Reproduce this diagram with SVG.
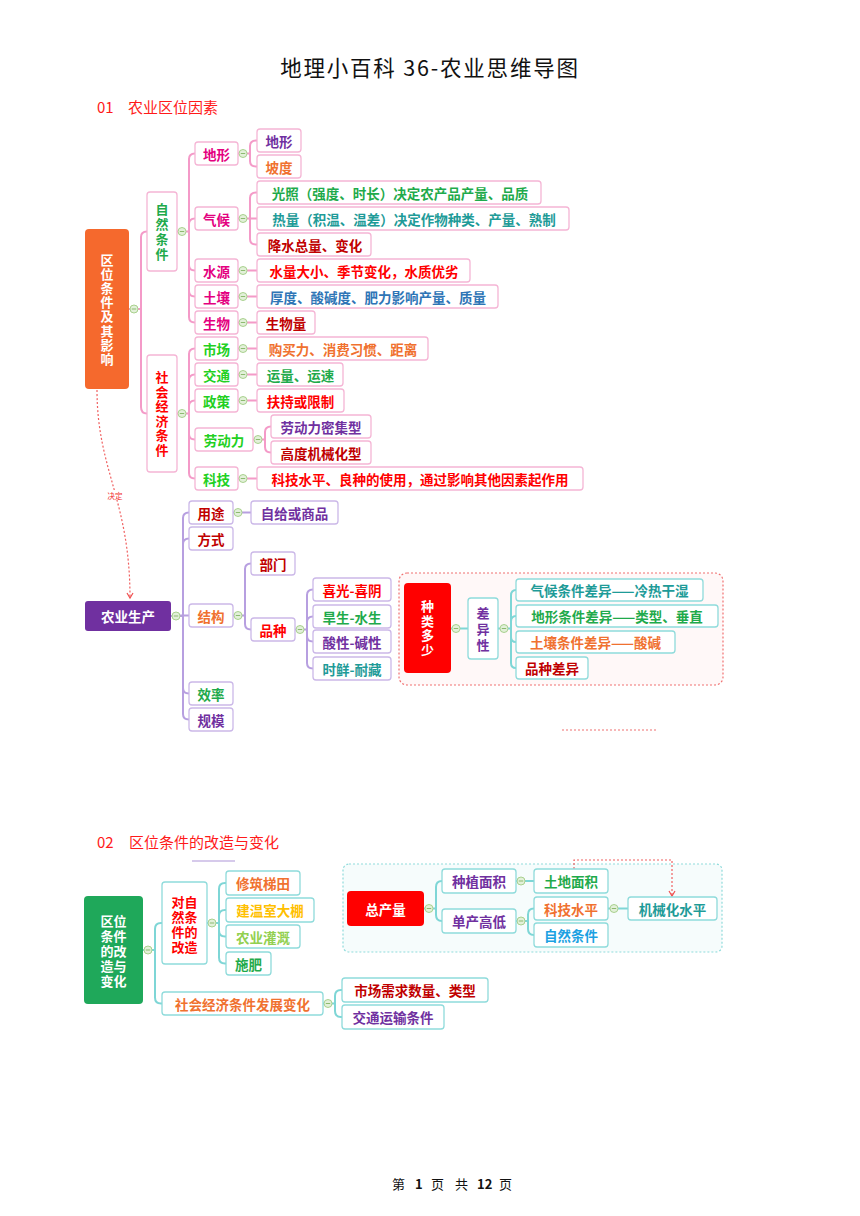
<svg xmlns="http://www.w3.org/2000/svg" xmlns:xlink="http://www.w3.org/1999/xlink" width="860" height="1216" viewBox="0 0 860 1216">
<style>
text{font-family:"Noto Sans CJK SC","Noto Sans",sans-serif;}
.t{font-weight:bold;font-size:13.5px;text-anchor:middle;dominant-baseline:central;}
.v{font-weight:bold;font-size:13px;text-anchor:middle;dominant-baseline:central;}
.vv{font-weight:bold;font-size:13px;text-anchor:middle;writing-mode:vertical-rl;}
.bp{fill:#fff;stroke:#F5B5D5;stroke-width:1.3;}
.bv{fill:#fff;stroke:#CBB8E8;stroke-width:1.3;}
.bt{fill:#fff;stroke:#8FDBDB;stroke-width:1.3;}
.lp{fill:none;stroke:#F49AC8;stroke-width:2;}
.lv{fill:none;stroke:#B79FE0;stroke-width:2;}
.lt{fill:none;stroke:#7ED6D6;stroke-width:2;}
.mag{fill:#E4007F}.pur{fill:#7030A0}.org{fill:#F0712F}.grn{fill:#1FAA4B}.teal{fill:#1E9B98}
.dred{fill:#C00000}.red{fill:#FF0000}.blue{fill:#2E75B6}.bgrn{fill:#22D022}.yel{fill:#FFC000}
.lgrn{fill:#92D050}.sky{fill:#1BA1E2}.wht{fill:#fff}
.dash{fill:none;stroke:#F06060;stroke-width:1.2;stroke-dasharray:2 2;}
</style>
<defs>
<g id="col"><circle r="4" fill="#E2F0D9" stroke="#A9D18E" stroke-width="1"/><line x1="-2.2" y1="0" x2="2.2" y2="0" stroke="#8DBA70" stroke-width="1"/></g>
<marker id="arr" markerWidth="8" markerHeight="8" refX="6" refY="4" orient="auto" markerUnits="userSpaceOnUse"><path d="M1,1 L6,4 L1,7" fill="none" stroke="#F05050" stroke-width="1.2"/></marker>
</defs>
<rect width="860" height="1216" fill="#fff"/>

<g id="headers">
<text x="430" y="76" font-size="21.5" text-anchor="middle" fill="#111" letter-spacing="1.8">地理小百科 36-农业思维导图</text>
<text x="97" y="113" font-size="15" fill="#FF1A1A">01<tspan x="128">农业区位因素</tspan></text>
<text x="97" y="848" font-size="15" fill="#FF1A1A">02<tspan x="129">区位条件的改造与变化</tspan></text>
<text y="1189" font-size="13" fill="#111"><tspan x="392">第</tspan><tspan x="415" font-weight="bold">1</tspan><tspan x="431">页</tspan><tspan x="455">共</tspan><tspan x="477" font-weight="bold">12</tspan><tspan x="499">页</tspan></text>
</g>

<g id="n-variety-box"><rect x="399" y="573" width="324" height="112" rx="8" fill="#FFF8F8" stroke="#F07070" stroke-width="1.2" stroke-dasharray="2 2"/></g>
<g id="n-output-box"><rect x="343" y="864" width="379" height="88" rx="6" fill="#F6FCFC" stroke="#8FDBDB" stroke-width="1.2" stroke-dasharray="2 2"/></g>

<g id="connectors">
<path class="lp" d="M129,309 H130 M138,309 H141 V237 Q141,231.5 147,231.5 M141,309 V407 Q141,413.5 147,413.5"/>
<path class="lp" d="M177,231.5 H178 M186,231.5 H189 V159 Q189,153.5 195,153.5 M189,231.5 V224 Q189,218.5 195,218.5 M189,231.5 V265 Q189,270.5 195,270.5 M189,231.5 V291 Q189,296.5 195,296.5 M189,231.5 V317 Q189,322.5 195,322.5"/>
<path class="lp" d="M177,413.5 H178 M186,413.5 H189 V354 Q189,348.5 195,348.5 M189,413.5 V380 Q189,374.5 195,374.5 M189,413.5 V406 Q189,400.5 195,400.5 M189,413.5 V434 Q189,439.5 195,439.5 M189,413.5 V473 Q189,478.5 195,478.5"/>
<path class="lp" d="M238,153.5 H239 M247,153.5 H250 V146 Q250,140.5 256,140.5 H257 M250,153.5 V161 Q250,166.5 256,166.5 H257"/>
<path class="lp" d="M238,218.5 H239 M247,218.5 H257 M250,218.5 V198 Q250,192.5 256,192.5 H257 M250,218.5 V239 Q250,244.5 256,244.5 H257"/>
<path class="lp" d="M238,270.5 H239 M247,270.5 H257 M238,296.5 H239 M247,296.5 H257 M238,322.5 H239 M247,322.5 H257"/>
<path class="lp" d="M238,348.5 H239 M247,348.5 H257 M238,374.5 H239 M247,374.5 H257 M238,400.5 H239 M247,400.5 H257 M238,478.5 H239 M247,478.5 H257"/>
<path class="lp" d="M253,439.5 H254 M262,439.5 H265 V432 Q265,426.5 271,426.5 M265,439.5 V447 Q265,452.5 271,452.5"/>
<path class="lv" d="M171,616 H172 M180,616 H183 V518 Q183,512.5 189,512.5 M183,616 V544 Q183,538.5 189,538.5 M180,615.5 H189 M183,616 V688 Q183,693.5 189,693.5 M183,616 V714 Q183,719.5 189,719.5"/>
<path class="lv" d="M233,512.5 H234 M242,512.5 H251"/>
<path class="lv" d="M233,615.5 H234 M242,615.5 H245 V569 Q245,563.5 251,563.5 M245,615.5 V624 Q245,629.5 251,629.5"/>
<path class="lv" d="M295,629.5 H296 M304,629.5 H307 V595 Q307,589.5 313,589.5 M307,629.5 V622 Q307,616.5 313,616.5 M307,629.5 V636 Q307,641.5 313,641.5 M307,629.5 V663 Q307,668.5 313,668.5"/>
<path class="lt" d="M451,628.5 H452 M460,628.5 H468 M498,628.5 H500 M508,628.5 H511 V595.5 Q511,590 516,590 M511,628.5 V621.5 Q511,616 516,616 M511,628.5 V637 Q511,642 516,642 M511,628.5 V663 Q511,668 516,668"/>
<path class="dash" d="M97,390 C97,470 130,500 130,598" marker-end="url(#arr)"/>
<path class="lt" d="M143,950 H144 M152,950 H155 V929 Q155,923 161,923 H162 M155,950 V997.5 Q155,1003.5 161,1003.5 H162"/>
<path class="lt" d="M207,923 H208 M216,923 H219 V889 Q219,883 225,883 H226 M219,923 V916 Q219,910 225,910 H226 M219,923 V930.5 Q219,936.5 225,936.5 H226 M219,923 V957.5 Q219,963.5 225,963.5 H226"/>
<path class="lt" d="M323,1003.5 H324 M332,1003.5 H335 V996 Q335,990 341,990 H342 M335,1003.5 V1011 Q335,1017 341,1017 H342"/>
<path class="lt" d="M424,908.5 H425 M433,908.5 H436 V887 Q436,881 442,881 M436,908.5 V915 Q436,921 442,921"/>
<path class="lt" d="M516,881 H517 M525,881 H534 M516,921 H517 M525,921 H528 V914.5 Q528,908.5 534,908.5 M528,921 V929 Q528,935 534,935"/>
<path class="lt" d="M608,908.5 H610 M618,908.5 H628"/>
<path class="dash" d="M574,869 V860 H672 V896" marker-end="url(#arr)"/>
<path d="M562,730 H658" fill="none" stroke="#F07070" stroke-width="1.2" stroke-dasharray="2 2"/>
<path d="M192,861 H235" fill="none" stroke="#C8B8E4" stroke-width="1.5"/>
<use xlink:href="#col" x="134" y="309"/>
<use xlink:href="#col" x="182" y="231.5"/>
<use xlink:href="#col" x="182" y="413.5"/>
<use xlink:href="#col" x="243" y="153.5"/>
<use xlink:href="#col" x="243" y="218.5"/>
<use xlink:href="#col" x="243" y="270.5"/>
<use xlink:href="#col" x="243" y="296.5"/>
<use xlink:href="#col" x="243" y="322.5"/>
<use xlink:href="#col" x="243" y="348.5"/>
<use xlink:href="#col" x="243" y="374.5"/>
<use xlink:href="#col" x="243" y="400.5"/>
<use xlink:href="#col" x="258" y="439.5"/>
<use xlink:href="#col" x="243" y="478.5"/>
<use xlink:href="#col" x="176" y="616"/>
<use xlink:href="#col" x="238" y="512.5"/>
<use xlink:href="#col" x="238" y="615.5"/>
<use xlink:href="#col" x="300" y="629.5"/>
<use xlink:href="#col" x="456" y="628.5"/>
<use xlink:href="#col" x="504" y="628.5"/>
<use xlink:href="#col" x="148" y="950"/>
<use xlink:href="#col" x="212" y="923"/>
<use xlink:href="#col" x="328" y="1003.5"/>
<use xlink:href="#col" x="429" y="908.5"/>
<use xlink:href="#col" x="521" y="881"/>
<use xlink:href="#col" x="521" y="921"/>
<use xlink:href="#col" x="614" y="908.5"/>
</g>

<g id="label-jueding">
<rect x="106" y="490" width="18" height="10" fill="#fff"/>
<text x="115" y="495" font-size="7.5" text-anchor="middle" dominant-baseline="central" fill="#F03030">决定</text>
</g>

<g id="n-main"><rect x="85" y="229" width="44" height="160" rx="4" fill="#F5692D"/>
<text class="vv wht" x="107" y="310" font-size="13.5" letter-spacing="1.2">区位条件及其影响</text></g>
<g id="n-ziran"><rect class="bp" x="147" y="192" width="30" height="79" rx="3"/>
<text class="vv grn" x="162" y="232.5" letter-spacing="2">自然条件</text></g>
<g id="n-shehui"><rect class="bp" x="147" y="355" width="30" height="117" rx="3"/>
<text class="vv red" x="162" y="414.3" letter-spacing="1.6">社会经济条件</text></g>

<g id="n-dixing"><rect class="bp" x="195" y="142" width="43" height="23" rx="3"/><text class="t mag" x="216.5" y="153.5">地形</text></g>
<g id="n-qihou"><rect class="bp" x="195" y="207" width="43" height="23" rx="3"/><text class="t mag" x="216.5" y="218.5">气候</text></g>
<g id="n-shuiyuan"><rect class="bp" x="195" y="259" width="43" height="23" rx="3"/><text class="t mag" x="216.5" y="270.5">水源</text></g>
<g id="n-turang"><rect class="bp" x="195" y="285" width="43" height="23" rx="3"/><text class="t mag" x="216.5" y="296.5">土壤</text></g>
<g id="n-shengwu"><rect class="bp" x="195" y="311" width="43" height="23" rx="3"/><text class="t mag" x="216.5" y="322.5">生物</text></g>
<g id="n-shichang"><rect class="bp" x="195" y="337" width="43" height="23" rx="3"/><text class="t bgrn" x="216.5" y="348.5">市场</text></g>
<g id="n-jiaotong"><rect class="bp" x="195" y="363" width="43" height="23" rx="3"/><text class="t bgrn" x="216.5" y="374.5">交通</text></g>
<g id="n-zhengce"><rect class="bp" x="195" y="389" width="43" height="23" rx="3"/><text class="t bgrn" x="216.5" y="400.5">政策</text></g>
<g id="n-laodongli"><rect class="bp" x="195" y="428" width="58" height="23" rx="3"/><text class="t bgrn" x="224" y="439.5">劳动力</text></g>
<g id="n-keji"><rect class="bp" x="195" y="467" width="43" height="23" rx="3"/><text class="t bgrn" x="216.5" y="478.5">科技</text></g>

<g id="n-dixing2"><rect class="bp" x="257" y="129" width="44" height="23" rx="3"/><text class="t pur" x="279" y="140.5">地形</text></g>
<g id="n-podu"><rect class="bp" x="257" y="155" width="44" height="23" rx="3"/><text class="t org" x="279" y="166.5">坡度</text></g>
<g id="n-guangzhao"><rect class="bp" x="257" y="181" width="284" height="23" rx="3"/><text class="t grn" x="400" y="192.5">光照（强度、时长）决定农产品产量、品质</text></g>
<g id="n-reliang"><rect class="bp" x="257" y="207" width="312" height="23" rx="3"/><text class="t teal" x="414" y="218.5">热量（积温、温差）决定作物种类、产量、熟制</text></g>
<g id="n-jiangshui"><rect class="bp" x="257" y="233" width="114" height="23" rx="3"/><text class="t dred" x="315" y="244.5">降水总量、变化</text></g>
<g id="n-shuiliang"><rect class="bp" x="257" y="259" width="213" height="23" rx="3"/><text class="t red" x="364" y="270.5">水量大小、季节变化，水质优劣</text></g>
<g id="n-houdu"><rect class="bp" x="257" y="285" width="241" height="23" rx="3"/><text class="t blue" x="378" y="296.5">厚度、酸碱度、肥力影响产量、质量</text></g>
<g id="n-shengwuliang"><rect class="bp" x="257" y="311" width="58" height="23" rx="3"/><text class="t dred" x="286" y="322.5">生物量</text></g>
<g id="n-goumaili"><rect class="bp" x="257" y="337" width="171" height="23" rx="3"/><text class="t org" x="343" y="348.5">购买力、消费习惯、距离</text></g>
<g id="n-yunliang"><rect class="bp" x="257" y="363" width="86" height="23" rx="3"/><text class="t grn" x="300.5" y="374.5">运量、运速</text></g>
<g id="n-fuchi"><rect class="bp" x="257" y="389" width="87" height="23" rx="3"/><text class="t red" x="300.5" y="400.5">扶持或限制</text></g>
<g id="n-miji"><rect class="bp" x="271" y="415" width="100" height="23" rx="3"/><text class="t pur" x="321" y="426.5">劳动力密集型</text></g>
<g id="n-jixie"><rect class="bp" x="271" y="441" width="100" height="23" rx="3"/><text class="t dred" x="321" y="452.5">高度机械化型</text></g>
<g id="n-kejishuiping"><rect class="bp" x="257" y="467" width="326" height="23" rx="3"/><text class="t red" x="420" y="478.5">科技水平、良种的使用，通过影响其他因素起作用</text></g>

<g id="n-nongye"><rect x="85" y="601" width="86" height="30" rx="3" fill="#7030A0"/><text class="t wht" font-size="14" x="128" y="616">农业生产</text></g>
<g id="n-yongtu"><rect class="bv" x="189" y="501" width="44" height="23" rx="3"/><text class="t dred" x="211" y="512.5">用途</text></g>
<g id="n-fangshi"><rect class="bv" x="189" y="527" width="44" height="23" rx="3"/><text class="t dred" x="211" y="538.5">方式</text></g>
<g id="n-jiegou"><rect class="bv" x="189" y="604" width="44" height="23" rx="3"/><text class="t org" x="211" y="615.5">结构</text></g>
<g id="n-xiaolv"><rect class="bv" x="189" y="682" width="44" height="23" rx="3"/><text class="t grn" x="211" y="693.5">效率</text></g>
<g id="n-guimo"><rect class="bv" x="189" y="708" width="44" height="23" rx="3"/><text class="t pur" x="211" y="719.5">规模</text></g>
<g id="n-zigei"><rect class="bv" x="251" y="501" width="87" height="23" rx="3"/><text class="t pur" x="294.5" y="512.5">自给或商品</text></g>
<g id="n-bumen"><rect class="bv" x="251" y="552" width="44" height="23" rx="3"/><text class="t dred" x="273" y="563.5">部门</text></g>
<g id="n-pinzhong"><rect class="bv" x="251" y="618" width="44" height="23" rx="3"/><text class="t red" x="273" y="629.5">品种</text></g>
<g id="n-xiguang"><rect class="bv" x="313" y="578" width="78" height="23" rx="3"/><text class="t red" x="352" y="589.5">喜光-喜阴</text></g>
<g id="n-hansheng"><rect class="bv" x="313" y="605" width="78" height="23" rx="3"/><text class="t grn" x="352" y="616.5">旱生-水生</text></g>
<g id="n-suanxing"><rect class="bv" x="313" y="630" width="78" height="23" rx="3"/><text class="t pur" x="352" y="641.5">酸性-碱性</text></g>
<g id="n-shixian"><rect class="bv" x="313" y="657" width="78" height="23" rx="3"/><text class="t teal" x="352" y="668.5">时鲜-耐藏</text></g>

<g id="n-zhonglei"><rect x="404" y="583" width="47" height="90" rx="4" fill="#FF0000"/>
<text class="vv wht" x="427.5" y="628.7" font-size="14" letter-spacing="1.5">种类多少</text></g>
<g id="n-chayixing"><rect class="bt" x="468" y="598" width="30" height="61" rx="3"/>
<text class="vv pur" x="483" y="630.5" letter-spacing="3">差异性</text></g>
<g id="n-qihoucy"><rect class="bt" x="516" y="579" width="187" height="22" rx="3"/><text class="t teal" x="609.5" y="590">气候条件差异——冷热干湿</text></g>
<g id="n-dixingcy"><rect class="bt" x="516" y="605" width="202" height="22" rx="3"/><text class="t grn" x="617" y="616">地形条件差异——类型、垂直</text></g>
<g id="n-turangcy"><rect class="bt" x="516" y="631" width="159" height="22" rx="3"/><text class="t org" x="595.5" y="642">土壤条件差异——酸碱</text></g>
<g id="n-pinzhongcy"><rect class="bt" x="516" y="657" width="72" height="22" rx="3"/><text class="t dred" x="552" y="668">品种差异</text></g>

<g id="n-gaizao"><rect x="84" y="896" width="59" height="108" rx="4" fill="#1FA85A"/>
<text class="v wht" font-size="13.5"><tspan x="113.5" y="920">区位</tspan><tspan x="113.5" y="935">条件</tspan><tspan x="113.5" y="950">的改</tspan><tspan x="113.5" y="965">造与</tspan><tspan x="113.5" y="980">变化</tspan></text></g>
<g id="n-duiziran"><rect class="bt" x="162" y="882" width="45" height="82" rx="3"/>
<text class="v red" font-size="13.5"><tspan x="184.5" y="901">对自</tspan><tspan x="184.5" y="916">然条</tspan><tspan x="184.5" y="931">件的</tspan><tspan x="184.5" y="946">改造</tspan></text></g>
<g id="n-titian"><rect class="bt" x="226" y="871" width="74" height="24" rx="3"/><text class="t org" x="263" y="883">修筑梯田</text></g>
<g id="n-wenshi"><rect class="bt" x="226" y="898" width="88" height="24" rx="3"/><text class="t yel" x="270" y="910">建温室大棚</text></g>
<g id="n-guangai"><rect class="bt" x="226" y="925" width="74" height="23" rx="3"/><text class="t lgrn" x="263" y="936.5">农业灌溉</text></g>
<g id="n-shifei"><rect class="bt" x="226" y="952" width="45" height="23" rx="3"/><text class="t grn" x="248.5" y="963.5">施肥</text></g>
<g id="n-shjj"><rect class="bt" x="162" y="992" width="161" height="23" rx="3"/><text class="t org" x="242.5" y="1003.5">社会经济条件发展变化</text></g>
<g id="n-xuqiu"><rect class="bt" x="342" y="978" width="146" height="24" rx="3"/><text class="t dred" x="415" y="990">市场需求数量、类型</text></g>
<g id="n-yunshu"><rect class="bt" x="342" y="1005" width="102" height="24" rx="3"/><text class="t pur" x="393" y="1017">交通运输条件</text></g>

<g id="n-zongchan"><rect x="347" y="891" width="77" height="35" rx="4" fill="#FF0000"/><text class="t wht" font-size="14" x="385.5" y="908.5">总产量</text></g>
<g id="n-zhongzhi"><rect class="bt" x="442" y="869" width="74" height="24" rx="3"/><text class="t pur" x="479" y="881">种植面积</text></g>
<g id="n-danchan"><rect class="bt" x="442" y="909" width="74" height="24" rx="3"/><text class="t pur" x="479" y="921">单产高低</text></g>
<g id="n-tudi"><rect class="bt" x="534" y="869" width="74" height="24" rx="3"/><text class="t grn" x="571" y="881">土地面积</text></g>
<g id="n-kejisp"><rect class="bt" x="534" y="897" width="74" height="23" rx="3"/><text class="t org" x="571" y="908.5">科技水平</text></g>
<g id="n-zirantj"><rect class="bt" x="534" y="923" width="74" height="24" rx="3"/><text class="t sky" x="571" y="935">自然条件</text></g>
<g id="n-jixiehua"><rect class="bt" x="628" y="897" width="89" height="23" rx="3"/><text class="t teal" x="672.5" y="908.5">机械化水平</text></g>
</svg>
